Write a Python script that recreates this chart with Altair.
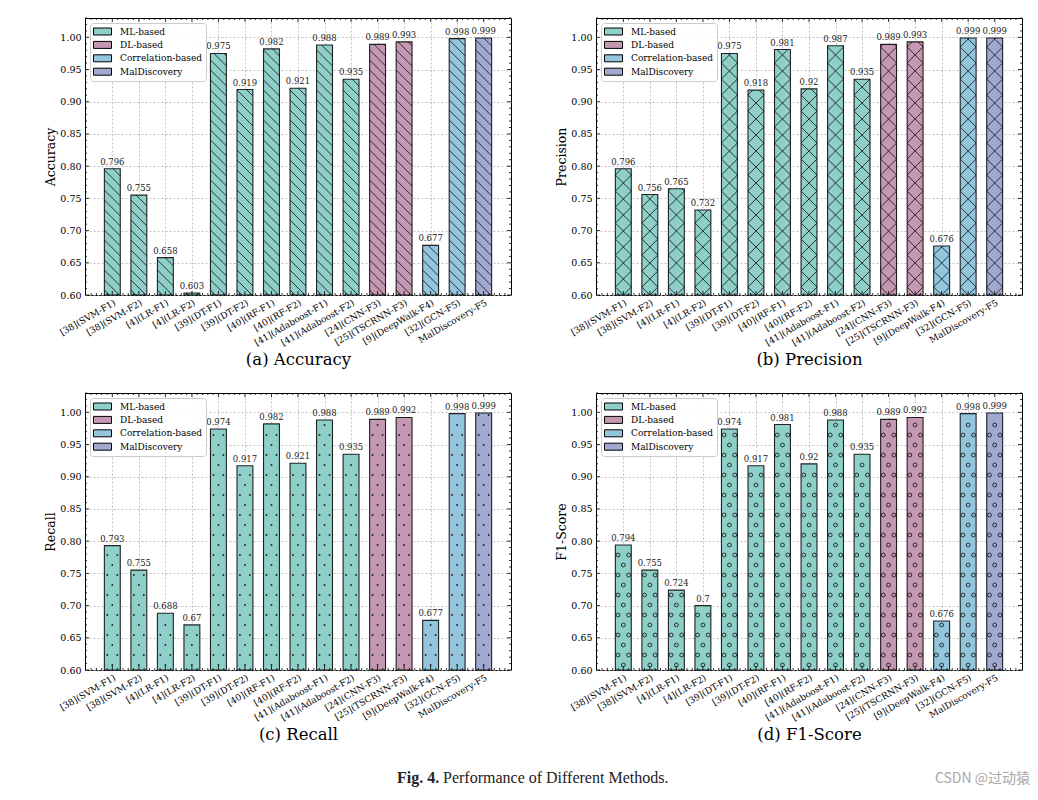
import altair as alt
import pandas as pd
import numpy as np

categories = ["[38](SVM-F1)", "[38](SVM-F2)", "[4](LR-F1)", "[4](LR-F2)", "[39](DT-F1)",
              "[39](DT-F2)", "[40](RF-F1)", "[40](RF-F2)", "[41](Adaboost-F1)",
              "[41](Adaboost-F2)", "[24](CNN-F3)", "[25](TSCRNN-F3)", "[9](DeepWalk-F4)",
              "[32](GCN-F5)", "MalDiscovery-F5"]
groups = ["ML-based"] * 10 + ["DL-based"] * 2 + ["Correlation-based"] * 2 + ["MalDiscovery"]
accuracy = [0.796, 0.755, 0.658, 0.603, 0.975, 0.919, 0.982, 0.921, 0.988, 0.935, 0.989, 0.993, 0.677, 0.998, 0.999]
precision = [0.796, 0.756, 0.765, 0.732, 0.975, 0.918, 0.981, 0.92, 0.987, 0.935, 0.989, 0.993, 0.676, 0.999, 0.999]
recall = [0.793, 0.755, 0.688, 0.67, 0.974, 0.917, 0.982, 0.921, 0.988, 0.935, 0.989, 0.992, 0.677, 0.998, 0.999]
f1_score = [0.794, 0.755, 0.724, 0.7, 0.974, 0.917, 0.981, 0.92, 0.988, 0.935, 0.989, 0.992, 0.676, 0.998, 0.999]
group_names = ["ML-based", "DL-based", "Correlation-based", "MalDiscovery"]
group_colors = ["#8ECFC9", "#C497B2", "#93C6DD", "#A1A9D0"]
y_ticks = [0.60, 0.65, 0.70, 0.75, 0.80, 0.85, 0.90, 0.95, 1.00]

SERIF = "DejaVu Serif"
W, H = 426, 277
XMIN, XMAX = -1.03, 15.03
YMIN, YMAX = 0.6, 1.03
BAR_W = 0.6
PX = W / (XMAX - XMIN)
PY = H / (YMAX - YMIN)
N = len(categories)

xscale = alt.Scale(domain=[XMIN, XMAX], nice=False, zero=False)
yscale = alt.Scale(domain=[YMIN, YMAX], nice=False, zero=False)


def base_df(values):
    return pd.DataFrame({
        "idx": list(range(N)),
        "cat": categories,
        "group": groups,
        "value": values,
        "x0": [i - BAR_W / 2 for i in range(N)],
        "x1": [i + BAR_W / 2 for i in range(N)],
        "base": [YMIN] * N,
        "label": [str(v) for v in values],
    })


def clip_line(m, c, w, h):
    if m > 0:
        lo, hi = max(0.0, -c), min(w, h - c)
    else:
        lo, hi = max(0.0, c - h), min(w, c)
    if hi - lo < 0.4:
        return None
    return lo, m * lo + c, hi, m * hi + c


def line_hatch(values, kind):
    rows = []
    for i, v in enumerate(values):
        w = BAR_W * PX
        h = (v - YMIN) * PY
        xl = i - BAR_W / 2
        if kind == "back":
            fams = [(-1, 5.0)]
            sp = 10.0
        else:
            fams = [(-1, w / 2), (1, -w / 2)]
            sp = 16.0
        for m, ph in fams:
            k_lo = int(np.floor((-w - ph) / sp)) - 1
            k_hi = int(np.ceil((w + h - ph) / sp)) + 1
            for k in range(k_lo, k_hi + 1):
                seg = clip_line(m, ph + k * sp, w, h)
                if seg:
                    u1, t1, u2, t2 = seg
                    rows.append({"hx": xl + u1 / PX, "hy": YMIN + t1 / PY,
                                 "hx2": xl + u2 / PX, "hy2": YMIN + t2 / PY})
    return pd.DataFrame(rows)


def point_hatch(values, spacing, offset, margin):
    rows = []
    for i, v in enumerate(values):
        h = (v - YMIN) * PY
        j = 0
        while True:
            t = spacing / 2 + j * spacing
            if t > h - margin:
                break
            offs = [0.0] if j % 2 == 0 else [-offset, offset]
            for du in offs:
                rows.append({"hx": i + du / PX, "hy": YMIN + t / PY})
            j += 1
    return pd.DataFrame(rows)


y_major = [round(v, 2) for v in y_ticks]
y_minor = [round(v, 2) for v in np.arange(0.60, 1.0301, 0.01) if round(v, 2) not in y_major]
x_major = list(range(N))
x_minor = [round(v, 2) for v in np.arange(-1.0, 15.01, 0.2) if abs(v - round(v)) > 1e-6]

label_expr = "[" + ",".join("'" + c + "'" for c in categories) + "][datum.value]"
legend_symbol = "M-1.8,-0.7L1.8,-0.7L1.8,0.7L-1.8,0.7Z"


def panel(values, metric, caption, hatch):
    df = base_df(values)
    xaxis = alt.Axis(values=list(range(N)), labelExpr=label_expr, labelAngle=330,
                     labelAlign="right", labelBaseline="top", labelFontSize=9,
                     labelPadding=3, labelOverlap=False, labelFlush=False,
                     grid=True, title=caption, titleFontSize=16.5, titleY=69,
                     titleBaseline="alphabetic")
    yaxis = alt.Axis(values=y_ticks, format=".2f", labelFontSize=9.5, labelPadding=4,
                     labelOverlap=False, labelFlush=False,
                     grid=True, title=metric, titleFontSize=12.5, titleX=-35,
                     titleBaseline="middle")
    X = lambda f: alt.X(f, scale=xscale, axis=xaxis)
    Y = lambda f: alt.Y(f, scale=yscale, axis=yaxis)
    legend = alt.Legend(title=None, orient="top-left", offset=5, padding=3, rowPadding=2.4,
                        labelFont=SERIF, labelFontSize=9, labelColor="black", labelOffset=12,
                        symbolType=legend_symbol, symbolSize=100, symbolOffset=4,
                        symbolStrokeColor="black", symbolStrokeWidth=1, symbolOpacity=1,
                        strokeColor="#cccccc", fillColor="rgba(255,255,255,0.85)",
                        cornerRadius=3)
    bars = alt.Chart(df).mark_bar(stroke="black", strokeWidth=1.1, strokeOpacity=0.85).encode(
        x=X("x0:Q"), x2="x1:Q", y=Y("value:Q"), y2="base:Q",
        color=alt.Color("group:N", scale=alt.Scale(domain=group_names, range=group_colors),
                        legend=legend),
    )
    if hatch in ("back", "cross"):
        hdf = line_hatch(values, hatch)
        hl = alt.Chart(hdf).mark_rule(color="#111111", strokeWidth=0.9, opacity=0.9).encode(
            x=X("hx:Q"), x2="hx2:Q", y=Y("hy:Q"), y2="hy2:Q")
    elif hatch == "circle":
        hdf = point_hatch(values, 10.0, 5.3, 3.0)
        hl = alt.Chart(hdf).mark_point(shape="circle", size=15, filled=False, stroke="#111111",
                                       strokeWidth=0.9, opacity=0.9).encode(
            x=X("hx:Q"), y=Y("hy:Q"))
    else:
        hdf = point_hatch(values, 10.0, 5.0, 2.0)
        hl = alt.Chart(hdf).mark_circle(size=3.5, color="#222222", opacity=1).encode(
            x=X("hx:Q"), y=Y("hy:Q"))
    labels = alt.Chart(df).mark_text(font=SERIF, fontSize=8.5, color="#222222",
                                     baseline="alphabetic", dy=-4).encode(
        x=X("idx:Q"), y=Y("value:Q"), text="label:N")
    tks = []
    for vals, ln in ((y_major, 4), (y_minor, 2)):
        tdf = pd.DataFrame({"t": vals})
        for x_a, x_b in ((0, ln), (W, W - ln)):
            tks.append(alt.Chart(tdf).mark_rule(color="black", strokeWidth=0.8).encode(
                y=Y("t:Q"), x=alt.value(x_a), x2=alt.value(x_b)))
    for vals, ln in ((x_major, 4), (x_minor, 2)):
        tdf = pd.DataFrame({"t": vals})
        for y_a, y_b in ((0, ln), (H, H - ln)):
            tks.append(alt.Chart(tdf).mark_rule(color="black", strokeWidth=0.8).encode(
                x=X("t:Q"), y=alt.value(y_a), y2=alt.value(y_b)))
    return alt.layer(bars, hl, labels, *tks).properties(width=W, height=H)


pa = panel(accuracy, "Accuracy", "(a) Accuracy", "back")
pb = panel(precision, "Precision", "(b) Precision", "cross")
pc = panel(recall, "Recall", "(c) Recall", "dot")
pd_ = panel(f1_score, "F1-Score", "(d) F1-Score", "circle")

row1 = alt.hconcat(pa, pb, spacing=42).resolve_scale(color="independent")
row2 = alt.hconcat(pc, pd_, spacing=42).resolve_scale(color="independent")
grid = alt.vconcat(row1, row2, spacing=24).resolve_scale(color="independent")

CW = 945
cap1 = alt.Chart(pd.DataFrame({"t": ["Fig. 4."]})).mark_text(
    font="Liberation Serif", fontSize=16, fontWeight="bold", align="left",
    baseline="middle", color="#222222").encode(text="t:N", x=alt.value(312), y=alt.value(15))
cap2 = alt.Chart(pd.DataFrame({"t": ["Performance of Different Methods."]})).mark_text(
    font="Liberation Serif", fontSize=16, align="left", baseline="middle",
    color="#222222").encode(text="t:N", x=alt.value(358), y=alt.value(15))
wm = alt.Chart(pd.DataFrame({"t": ["CSDN @过动猿"]})).mark_text(
    font="Noto Sans CJK SC", fontSize=14, align="right", baseline="middle",
    color="#a8a8a8").encode(text="t:N", x=alt.value(CW), y=alt.value(16))
caption = alt.layer(cap1, cap2, wm).properties(width=CW, height=24,
                                              view=alt.ViewBackground(strokeOpacity=0))

chart = alt.vconcat(grid, caption, spacing=20).properties(
    padding={"left": 35, "top": 9, "right": 0, "bottom": 0}
).configure_view(stroke="black", strokeWidth=1).configure_axis(
    labelFont=SERIF, titleFont=SERIF, labelColor="black", titleColor="black",
    titleFontWeight="normal", domain=False, ticks=False, gridDash=[2, 2],
    gridColor="#b3b3b3", gridWidth=0.8
)

chart.save("out.html", embed_options={"renderer": "svg", "actions": False})
